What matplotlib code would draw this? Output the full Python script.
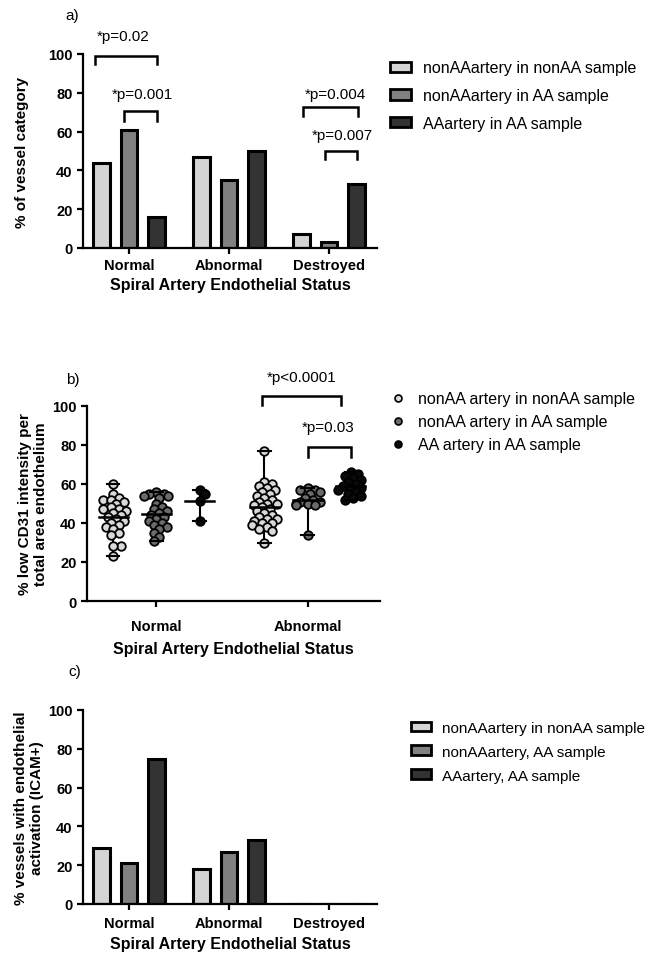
import numpy as np
import matplotlib.pyplot as plt
from matplotlib.patches import Patch
from matplotlib.lines import Line2D

plt.rcParams['font.family'] = ['Liberation Sans', 'DejaVu Sans']

# ── Data ─────────────────────────────────────────
STATUS_3 = ['Normal', 'Abnormal', 'Destroyed']
STATUS_2 = ['Normal', 'Abnormal']

# a) % of vessel category
A_LABELS = ['nonAAartery in nonAA sample', 'nonAAartery in AA sample', 'AAartery in AA sample']
A_NONAA_NONAA = [44, 47, 7]
A_NONAA_AA = [61, 35, 3]
A_AA_AA = [16, 50, 33]

# b) % low CD31 intensity per total area endothelium
B_LABELS = ['nonAA artery in nonAA sample', 'nonAA artery in AA sample', 'AA artery in AA sample']
B_NORMAL_NONAA_NONAA = [60, 55, 53, 52, 52, 51, 50, 48, 47, 47, 46, 45, 44, 43, 42,
                        41, 40, 39, 38, 37, 35, 34, 28, 28, 23]
B_NORMAL_NONAA_AA = [56, 55, 55, 54, 54, 53, 50, 48, 47, 46, 45, 44, 43, 42, 41,
                     40, 39, 38, 37, 35, 33, 31]
B_NORMAL_AA_AA = [57, 55, 51.5, 41]
B_ABN_NONAA_NONAA = [77, 61, 60, 59, 58, 57, 56, 55, 54, 53, 52, 51, 50, 50, 49, 48,
                     47, 46, 45, 44, 43, 42, 42, 41, 40, 40, 39, 38, 37, 36, 30]
B_ABN_NONAA_AA = [58, 57, 57, 56, 55, 53, 52, 51, 51, 50, 50, 49, 49, 34]
B_ABN_AA_AA = [66, 65, 64, 63, 62, 61, 60, 59, 58, 58, 57, 56, 55, 54, 53, 52]

# c) % vessels with endothelial activation (ICAM+)
C_LABELS = ['nonAAartery in nonAA sample', 'nonAAartery, AA sample', 'AAartery, AA sample']
C_NONAA_NONAA = [29, 18, 0]
C_NONAA_AA = [21, 27, 0]
C_AA_AA = [75, 33, 0]

BAR_COLORS = ['#d4d4d4', '#808080', '#333333']
DOT_COLORS = ['#d9d9d9', '#6b6b6b', '#0a0a0a']

W, H = 660, 954
fig = plt.figure(figsize=(W / 100, H / 100), dpi=100)


def px_axes(x0, x1, ytop, ybot):
    return fig.add_axes([x0 / W, 1 - ybot / H, (x1 - x0) / W, (ybot - ytop) / H])


def style(ax, tickpad):
    for s in ['top', 'right']:
        ax.spines[s].set_visible(False)
    for s in ['left', 'bottom']:
        ax.spines[s].set_linewidth(1.6)
    ax.tick_params(width=1.6, length=4, labelsize=10.5)
    ax.tick_params(axis='x', pad=tickpad)
    ax.set_ylim(0, 100)
    ax.set_yticks(range(0, 101, 20))
    for lab in ax.get_xticklabels() + ax.get_yticklabels():
        lab.set_fontweight('bold')
    ax.set_facecolor('none')


def bracket(ax, x1, x2, ytip, ytop, text, ytext, xtext):
    ax.plot([x1, x1, x2, x2], [ytip, ytop, ytop, ytip], color='black', lw=1.8,
            clip_on=False, solid_joinstyle='miter')
    ax.text(xtext, ytext, text, ha='center', va='center', fontsize=11, clip_on=False)


def bar_panel(ax, series):
    x = np.arange(len(STATUS_3))
    offs = [-0.275, 0, 0.275]
    for vals, o, c in zip(series, offs, BAR_COLORS):
        ax.bar(x + o, vals, width=0.165, color=c, edgecolor='black', linewidth=2.2)
    ax.set_xticks(x)
    ax.set_xticklabels(STATUS_3)
    ax.set_xlim(-0.46, 2.48)


LEG_KW = dict(loc='upper left', frameon=False, handletextpad=0.75)

# ── a) ───────────────────────────────────────────
ax_a = px_axes(83, 377, 55, 249)
bar_panel(ax_a, [A_NONAA_NONAA, A_NONAA_AA, A_AA_AA])
style(ax_a, 3)
ax_a.set_xlabel('Spiral Artery Endothelial Status', fontsize=11.5, fontweight='bold', labelpad=4)
ax_a.set_ylabel('% of vessel category', fontsize=11, fontweight='bold', labelpad=14)
bracket(ax_a, -0.34, 0.28, 95, 99, '*p=0.02', 109.5, -0.06)
bracket(ax_a, -0.05, 0.28, 65.5, 70.5, '*p=0.001', 79.5, 0.13)
bracket(ax_a, 1.74, 2.29, 68, 72.5, '*p=0.004', 79.5, 2.06)
bracket(ax_a, 1.96, 2.28, 46, 50, '*p=0.007', 58, 2.13)
ax_a.text(-0.06, 1.2, 'a)', transform=ax_a.transAxes, fontsize=11, va='center')

leg_a = [Patch(facecolor=c, edgecolor='black', linewidth=2) for c in BAR_COLORS]
fig.legend(leg_a, A_LABELS, bbox_to_anchor=(376 / W, 1 - 47 / H), handlelength=1.3,
           handleheight=0.6, labelspacing=0.8, fontsize=11.5, **LEG_KW)


# ── b) ───────────────────────────────────────────
def swarm(vals, xpx_per_unit, ypx_per_unit, diam, maxw=12):
    # compact beeswarm: place sorted points at the nearest free horizontal slot
    order = np.argsort(vals)[::-1]
    placed = []
    offsets = np.zeros(len(vals))
    step = diam * 0.3
    for i in order:
        y = vals[i] * ypx_per_unit
        k = 0
        while True:
            cands = [0.0] if k == 0 else [k * step, -k * step]
            ok = None
            for cx in cands:
                if all((cx - px) ** 2 + (y - py) ** 2 >= (0.7 * diam) ** 2 for px, py in placed):
                    ok = cx
                    break
            if ok is None and k * step >= maxw:
                ok = cands[0] if len(placed) % 2 else cands[-1]
                ok = float(np.clip(ok, -maxw, maxw))
            if ok is not None:
                placed.append((ok, y))
                offsets[i] = ok / xpx_per_unit
                break
            k += 1
    return offsets


ax_b = px_axes(87, 380, 407, 602)
ax_b.set_xlim(-0.46, 1.48)
ax_b.set_xticks([0, 1])
ax_b.set_xticklabels(STATUS_2)
style(ax_b, 9)
xppu = (380 - 87) / 1.94
yppu = (602 - 407) / 100
groups_b = [
    [B_NORMAL_NONAA_NONAA, B_NORMAL_NONAA_AA, B_NORMAL_AA_AA],
    [B_ABN_NONAA_NONAA, B_ABN_NONAA_AA, B_ABN_AA_AA],
]
offs_b = [-0.285, 0, 0.285]
for gi, series in enumerate(groups_b):
    for vals, o, c in zip(series, offs_b, DOT_COLORS):
        v = np.array(vals, dtype=float)
        xc = gi + o
        jit = swarm(v, xppu, yppu, 8.5)
        ax_b.scatter(xc + jit, v, s=38, facecolor=c, edgecolor='black', linewidth=1.3, zorder=3)
        lo, hi, m = v.min(), v.max(), v.mean()
        ax_b.plot([xc, xc], [lo, hi], color='black', lw=1.5, zorder=2)
        ax_b.plot([xc - 0.04, xc + 0.04], [lo, lo], color='black', lw=1.5, zorder=4)
        ax_b.plot([xc - 0.04, xc + 0.04], [hi, hi], color='black', lw=1.5, zorder=4)
        ax_b.plot([xc - 0.095, xc + 0.095], [m, m], color='black', lw=1.8, zorder=4)
ax_b.set_xlabel('Spiral Artery Endothelial Status', fontsize=11.5, fontweight='bold', labelpad=6)
ax_b.set_ylabel('% low CD31 intensity per\ntotal area endothelium', fontsize=11,
                fontweight='bold', labelpad=3)
bracket(ax_b, 0.70, 1.225, 100.5, 105, '*p<0.0001', 115, 0.96)
bracket(ax_b, 1.0, 1.285, 74, 79, '*p=0.03', 89, 1.14)
ax_b.text(-0.07, 1.14, 'b)', transform=ax_b.transAxes, fontsize=11, va='center')

leg_b = [Line2D([], [], marker='o', linestyle='none', markerfacecolor=c,
                markeredgecolor='black', markeredgewidth=1.2, markersize=5)
         for c in DOT_COLORS]
fig.legend(leg_b, B_LABELS, bbox_to_anchor=(376 / W, 1 - 378 / H), handlelength=1.0,
           labelspacing=0.5, fontsize=11.5, **LEG_KW)

# ── c) ───────────────────────────────────────────
ax_c = px_axes(83, 377, 711, 905)
bar_panel(ax_c, [C_NONAA_NONAA, C_NONAA_AA, C_AA_AA])
style(ax_c, 5)
ax_c.set_xlabel('Spiral Artery Endothelial Status', fontsize=11.5, fontweight='bold', labelpad=4)
ax_c.set_ylabel('% vessels with endothelial\nactivation (ICAM+)', fontsize=11,
                fontweight='bold', labelpad=3)
ax_c.text(-0.05, 1.2, 'c)', transform=ax_c.transAxes, fontsize=11, va='center')

leg_c = [Patch(facecolor=c, edgecolor='black', linewidth=2) for c in BAR_COLORS]
fig.legend(leg_c, C_LABELS, bbox_to_anchor=(397 / W, 1 - 708 / H), handlelength=1.3,
           handleheight=0.6, labelspacing=0.65, fontsize=11, **LEG_KW)

fig.savefig('out.png', dpi=100, facecolor='white')
